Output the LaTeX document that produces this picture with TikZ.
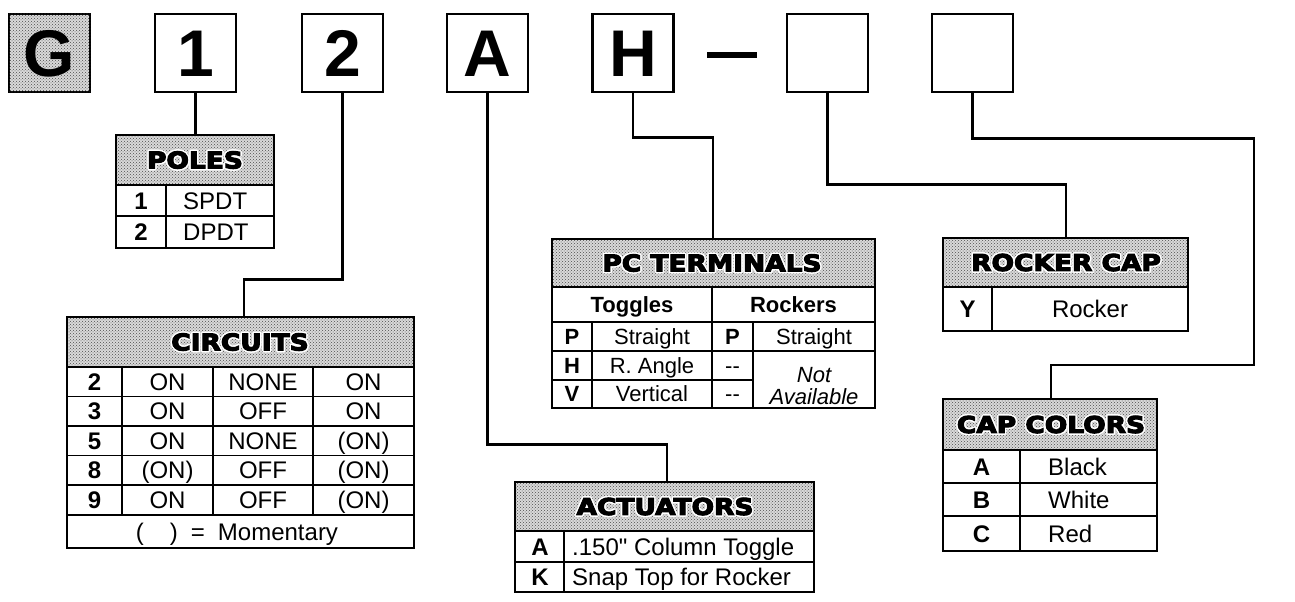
\documentclass[tikz,border=0pt]{standalone}
\usepackage{fontspec}
\setmainfont{Liberation Sans}
\newfontfamily\hdrfam{DejaVu Sans}[FakeStretch=1.15,BoldFeatures={FakeBold=5}]
\usetikzlibrary{patterns}
\newcommand\hdrfont{\hdrfam\bfseries\fontsize{23}{27}\selectfont}
\newcommand\keyfont{\bfseries\fontsize{66}{70}\selectfont}
\newcommand\cf{\fontsize{24}{28}\selectfont}
\newcommand\pcf{\fontsize{22}{26}\selectfont}
\newcommand\halo[1]{\leavevmode
 \rlap{\textcolor{white}{\kern1.5pt#1}}%
 \rlap{\textcolor{white}{\kern-1.5pt#1}}%
 \rlap{\textcolor{white}{\raisebox{1.5pt}{#1}}}%
 \rlap{\textcolor{white}{\raisebox{-1.5pt}{#1}}}%
 \rlap{\textcolor{white}{\kern1.1pt\raisebox{1.1pt}{#1}}}%
 \rlap{\textcolor{white}{\kern-1.1pt\raisebox{1.1pt}{#1}}}%
 \rlap{\textcolor{white}{\kern1.1pt\raisebox{-1.1pt}{#1}}}%
 \rlap{\textcolor{white}{\kern-1.1pt\raisebox{-1.1pt}{#1}}}%
 #1}
\tikzset{
 hdr/.style={fill=black!15, postaction={pattern=crosshatch dots, pattern color=black!70}},
 outer/.style={line width=2.6pt},
 mid/.style={line width=2.2pt},
 inner/.style={line width=1.2pt},
 conn/.style={line width=2.2pt, line join=miter},
 keybox/.style={draw, line width=2.8pt, minimum width=81pt, minimum height=78pt, inner sep=0pt,
   font=\keyfont, text height=47.5pt, text depth=0pt},
 htext/.style={font=\hdrfont, inner sep=0pt, text height=16.8pt, text depth=0pt},
 cell/.style={font=\cf, inner sep=0pt, text height=17pt, text depth=0pt},
 bcell/.style={cell, font=\cf\bfseries},
 pcell/.style={font=\pcf, inner sep=0pt, text height=15.8pt, text depth=0pt},
 pbcell/.style={pcell, font=\pcf\bfseries},
 picell/.style={pcell, font=\pcf\itshape},
}
\begin{document}
\begin{tikzpicture}[x=1pt,y=-1pt]
\useasboundingbox (0,0) rectangle (1295,602);

% ---- key boxes
\node[keybox, hdr] (bG) at (49.5,53) {G};
\node[keybox] (b1) at (195.5,53) {1};
\node[keybox] (b2) at (342.5,53) {2};
\node[keybox] (bA) at (487.5,53) {A};
\node[keybox] (bH) at (633,53) {H};
\node[fill, minimum width=50pt, minimum height=6pt, inner sep=0pt] (dash) at (732,55) {};
\node[keybox] (b6) at (827.5,53) {};
\node[keybox] (b7) at (972.5,53) {};

% ---- POLES
\path[hdr] (116,135) rectangle (274,185);
\draw[inner] (116,216) -- (274,216);
\draw[inner] (166,185) -- (166,248);
\draw[mid] (116,185) -- (274,185);
\draw[outer] (116,135) rectangle (274,248);
\coordinate (polesT) at (195.5,135);
\node[htext] (polesH) at (195,160) {\halo{POLES}};
\node[bcell] (p1k) at (141,200.5) {1};
\node[cell, anchor=west] (p1v) at (183,200.5) {SPDT};
\node[bcell] (p2k) at (141,232) {2};
\node[cell, anchor=west] (p2v) at (183,232) {DPDT};

% ---- CIRCUITS
\path[hdr] (67,317) rectangle (414,367);
\foreach \yy in {396.5,426,455.5,485,515} \draw[inner] (67,\yy) -- (414,\yy);
\foreach \xx in {122,213,313} \draw[inner] (\xx,367) -- (\xx,515);
\draw[mid] (67,367) -- (414,367);
\draw[outer] (67,317) rectangle (414,548);
\coordinate (circT) at (244,317);
\node[htext] (circH) at (240,342) {\halo{CIRCUITS}};
\foreach \k/\a/\b/\c [count=\i] in {2/ON/NONE/ON, 3/ON/OFF/ON, 5/ON/NONE/{(ON)}, 8/{(ON)}/OFF/{(ON)}, 9/ON/OFF/{(ON)}}{
  \node[bcell] (c\i k) at (94.5,{381.75+29.5*(\i-1)}) {\k};
  \node[cell] (c\i a) at (167.5,{381.75+29.5*(\i-1)}) {\a};
  \node[cell] (c\i b) at (263,{381.75+29.5*(\i-1)}) {\b};
  \node[cell] (c\i c) at (363.5,{381.75+29.5*(\i-1)}) {\c};
}
\node[cell] (cmom) at (237,531.5) {(\hspace{26pt})\hspace{13pt}=\hspace{13pt}Momentary};

% ---- PC TERMINALS
\path[hdr] (552,239) rectangle (875,287);
\draw[inner] (552,322) -- (875,322);
\draw[inner] (552,351) -- (875,351);
\draw[inner] (552,380) -- (753,380);
\draw[inner] (592,322) -- (592,408);
\draw[inner] (753,322) -- (753,408);
\draw[mid] (712,287) -- (712,408);
\draw[mid] (552,287) -- (875,287);
\draw[outer] (552,239) rectangle (875,408);
\coordinate (pcT) at (713,239);
\node[htext] (pcH) at (712,263) {\halo{PC TERMINALS}};
\node[pbcell] (pcTog) at (632,304.5) {Toggles};
\node[pbcell] (pcRoc) at (793.5,304.5) {Rockers};
\node[pbcell] (t1k) at (572,336.5) {P};
\node[pcell] (t1v) at (652,336.5) {Straight};
\node[pbcell] (t2k) at (572,365.5) {H};
\node[pcell] (t2v) at (652,365.5) {R. Angle};
\node[pbcell] (t3k) at (572,394) {V};
\node[pcell] (t3v) at (652,394) {Vertical};
\node[pbcell] (r1k) at (732.5,336.5) {P};
\node[pcell] (r1v) at (814,336.5) {Straight};
\node[pcell] (r2k) at (732.5,365.5) {-{}-};
\node[picell] (r2v) at (814,375) {Not};
\node[pcell] (r3k) at (732.5,394) {-{}-};
\node[picell] (r3v) at (814,397) {Available};

% ---- ROCKER CAP
\path[hdr] (943,238) rectangle (1188,287);
\draw[inner] (992,287) -- (992,331);
\draw[mid] (943,287) -- (1188,287);
\draw[outer] (943,238) rectangle (1188,331);
\coordinate (rockT) at (1066,238);
\node[htext] (rockH) at (1066,262.5) {\halo{ROCKER CAP}};
\node[bcell] (y1k) at (967.5,309) {Y};
\node[cell] (y1v) at (1090,309) {Rocker};

% ---- CAP COLORS
\path[hdr] (943,399) rectangle (1157,450);
\draw[inner] (943,483) -- (1157,483);
\draw[inner] (943,516) -- (1157,516);
\draw[inner] (1020,450) -- (1020,551);
\draw[mid] (943,450) -- (1157,450);
\draw[outer] (943,399) rectangle (1157,551);
\coordinate (capT) at (1051,399);
\node[htext] (capH) at (1051,424.5) {\halo{CAP COLORS}};
\node[bcell] (k1k) at (981.5,466.5) {A};
\node[cell, anchor=west] (k1v) at (1048,466.5) {Black};
\node[bcell] (k2k) at (981.5,499.5) {B};
\node[cell, anchor=west] (k2v) at (1048,499.5) {White};
\node[bcell] (k3k) at (981.5,533.5) {C};
\node[cell, anchor=west] (k3v) at (1048,533.5) {Red};

% ---- ACTUATORS
\path[hdr] (515,482) rectangle (814,531);
\draw[inner] (515,562) -- (814,562);
\draw[inner] (564,531) -- (564,592);
\draw[mid] (515,531) -- (814,531);
\draw[outer] (515,482) rectangle (814,592);
\coordinate (actT) at (667,482);
\node[htext] (actH) at (665,506.5) {\halo{ACTUATORS}};
\node[bcell] (a1k) at (540,546.5) {A};
\node[cell, anchor=west] (a1v) at (572,546.5) {.150\textquotedbl{} Column Toggle};
\node[bcell] (a2k) at (540,577) {K};
\node[cell, anchor=west] (a2v) at (572,577) {Snap Top for Rocker};

% ---- connectors
\draw[conn] (b1.south) -- (polesT);
\draw[conn] (b2.south) -- ++(0,186) -| (circT);
\draw[conn] (bA.south) -- ++(0,351) -| (actT);
\draw[conn] (bH.south) -- ++(0,44) -| (pcT);
\draw[conn] (b6.south) -- ++(0,91) -| (rockT);
\draw[conn] (b7.south) -- ++(0,45) -| (1254,365) -| (capT);
\end{tikzpicture}
\end{document}
